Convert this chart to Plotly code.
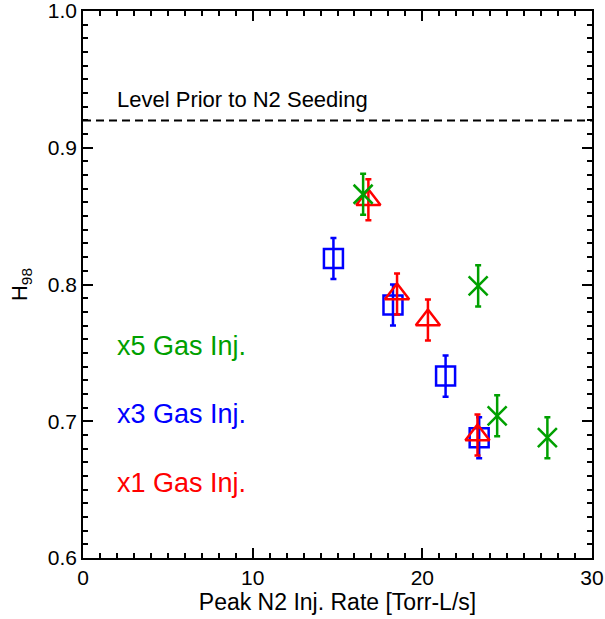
import plotly.graph_objects as go

# x1 Gas Inj. (red triangles)
x1_rate = [16.82, 18.51, 20.33, 23.25]
x1_h98 = [0.862, 0.793, 0.774, 0.690]
x1_err = [0.015, 0.015, 0.015, 0.015]

# x3 Gas Inj. (blue squares)
x3_rate = [14.76, 18.27, 21.37, 23.35]
x3_h98 = [0.819, 0.785, 0.733, 0.688]
x3_err = [0.015, 0.015, 0.015, 0.015]

# x5 Gas Inj. (green asterisks)
x5_rate = [16.51, 23.29, 24.41, 27.37]
x5_h98 = [0.866, 0.799, 0.704, 0.688]
x5_err = [0.015, 0.015, 0.015, 0.015]

prior_level = 0.92
x_range = [0, 30]
y_range = [0.6, 1.0]

RED = "#ff0000"
BLUE = "#0000ff"
GREEN = "#00a000"
FONT = "Liberation Sans, Arial, sans-serif"

fig = go.Figure()

fig.add_shape(type="line", xref="paper", yref="y", x0=0, x1=1, y0=prior_level, y1=prior_level,
              line=dict(color="black", width=2, dash="8px,5px"))

def add_series(x, y, e, color, symbol, size):
    fig.add_trace(go.Scatter(
        x=x, y=y, mode="markers",
        marker=dict(symbol=symbol, size=size, color=color,
                    line=dict(color=color, width=2.5)),
        error_y=dict(type="data", array=e, visible=True, color=color, thickness=2.5, width=3),
        showlegend=False, cliponaxis=False,
    ))

add_series(x3_rate, x3_h98, x3_err, BLUE, "square-open", 19)
add_series(x1_rate, x1_h98, x1_err, RED, "triangle-up-open", 21)
add_series(x5_rate, x5_h98, x5_err, GREEN, "x-thin-open", 19)

fig.add_annotation(x=1.9, y=0.935, xref="x", yref="y", text="Level Prior to N2 Seeding",
                   showarrow=False, xanchor="left", yanchor="middle",
                   font=dict(family=FONT, size=22, color="black"))
for label, yv, col in [("x5 Gas Inj.", 0.7547, GREEN), ("x3 Gas Inj.", 0.705, BLUE), ("x1 Gas Inj.", 0.6547, RED)]:
    fig.add_annotation(x=1.9, y=yv, xref="x", yref="y", text=label, showarrow=False,
                       xanchor="left", yanchor="middle", font=dict(family=FONT, size=27, color=col))

axis_common = dict(showline=True, linecolor="black", linewidth=1.5, mirror="allticks",
                   ticks="inside", ticklen=10, tickwidth=2, tickcolor="black",
                   showgrid=False, zeroline=False, automargin=False,
                   ticklabeloverflow="allow", layer="above traces",
                   minor=dict(ticks="inside", ticklen=5, tickwidth=2, tickcolor="black", showgrid=False),
                   tickfont=dict(family=FONT, size=21, color="black"))

fig.update_layout(
    template="none",
    width=605, height=619, plot_bgcolor="rgba(0,0,0,0)", paper_bgcolor="white",
    margin=dict(l=83, r=13, t=11, b=61),
    xaxis=dict(range=x_range, tick0=0, dtick=10,
               title=dict(text="Peak N2 Inj. Rate [Torr-L/s]", font=dict(family=FONT, size=23, color="black"), standoff=2),
               **axis_common),
    yaxis=dict(range=y_range, tick0=0.6, dtick=0.1, tickformat=".1f",
               title=dict(text="H<sub>98</sub>", font=dict(family=FONT, size=22, color="black"), standoff=14),
               **axis_common),
)
fig.update_xaxes(minor_dtick=1)
fig.update_yaxes(minor_dtick=0.01)

fig.write_html("out.html")
